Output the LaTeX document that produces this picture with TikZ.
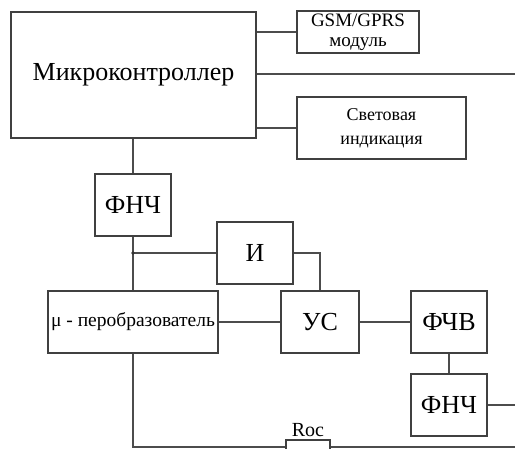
\documentclass[tikz,border=0pt]{standalone}
\usepackage{fontspec}
\setmainfont{Liberation Serif}

\begin{document}
\begin{tikzpicture}[x=1pt,y=-1pt,
    blk/.style={draw=black!75,line width=1.5pt,fill=white,inner sep=0pt,align=center},
    wire/.style={draw=black!70,line width=1.5pt},
    big/.style={font=\fontsize{26}{28}\selectfont},
    small/.style={font=\fontsize{19}{20}\selectfont}]

    \useasboundingbox (0,0) rectangle (515,448);

    \coordinate (outA) at (515,74);
    \coordinate (outB) at (515,447);
    \coordinate (outC) at (515,405);

    \node [blk,minimum width=245,minimum height=126,font=\fontsize{26}{28}\selectfont] (mc) at (133.5,75) {Микроконтроллер};
    \node [blk,small,minimum width=122,minimum height=42] (gsm) at (358,32) {GSM/GPRS\\модуль};
    \node [blk,minimum width=169,minimum height=62,font=\fontsize{18}{24}\selectfont] (svet) at (381.5,128) {Световая\\индикация};
    \node [blk,big,minimum width=76,minimum height=62] (fnch1) at (133,205) {ФНЧ};
    \node [blk,big,minimum width=76,minimum height=62] (i) at (255,253) {И};
    \node [blk,minimum width=170,minimum height=62,font=\fontsize{19.5}{21}\selectfont] (mu) at (133,322) {μ - перобразователь};
    \node [blk,big,minimum width=78,minimum height=62] (us) at (320,322) {УС};
    \node [blk,big,minimum width=76,minimum height=62] (fchv) at (449,322) {ФЧВ};
    \node [blk,big,minimum width=76,minimum height=62] (fnch2) at (449,405) {ФНЧ};
    \node [blk,minimum width=44,minimum height=14] (roc) at (308,447) {};
    \node [font=\fontsize{20}{22}\selectfont,inner sep=0pt] (roclbl) at (308,430) {Roc};

    \coordinate (j) at (fnch1.south |- i.west);

    % microcontroller outputs
    \draw [wire] (mc.east |- gsm.west) -- (gsm.west);
    \draw [wire] (mc.east |- outA) -- (outA);
    \draw [wire] (mc.east |- svet.west) -- (svet.west);
    \draw [wire] (mc.south -| fnch1.north) -- (fnch1.north);

    % measuring chain
    \draw [wire] (fnch1.south) -- (mu.north);
    \draw [wire] (j) -- (i.west);
    \fill [black!80] (j) circle (1.8);
    \draw [wire] (i.east) -| (us.north);
    \draw [wire] (mu.east) -- (us.west);
    \draw [wire] (us.east) -- (fchv.west);
    \draw [wire] (fchv.south) -- (fnch2.north);
    \draw [wire] (fnch2.east) -- (fnch2.east -| outC);

    % feedback
    \draw [wire] (mu.south) |- (roc.west);
    \draw [wire] (roc.east) -- (roc.east -| outB);

\end{tikzpicture}
\end{document}
